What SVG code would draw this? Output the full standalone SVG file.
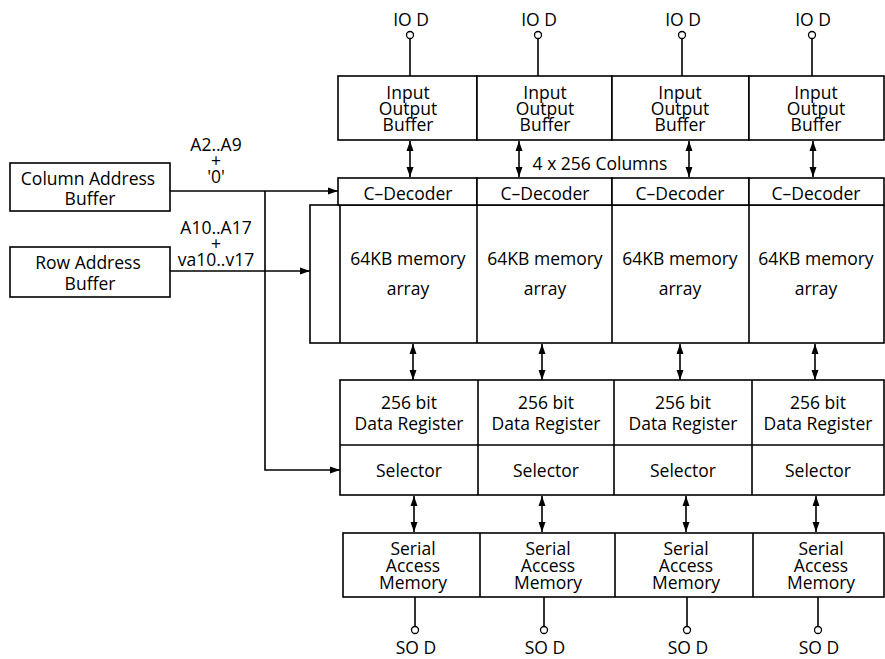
<svg xmlns="http://www.w3.org/2000/svg" width="885" height="659" viewBox="0 0 885 659">
<style>
.b{fill:#fff;stroke:#000;stroke-width:1.6}
.l{fill:none;stroke:#000;stroke-width:1.6}
text{font-family:"Open Sans","DejaVu Sans",sans-serif;font-size:17.5px;fill:#000;text-anchor:middle}
.pin{fill:#fff;stroke:#000;stroke-width:1.3}
</style>
<defs>
<marker id="a" viewBox="0 0 10 10" refX="10" refY="5" markerWidth="10" markerHeight="10" markerUnits="userSpaceOnUse" orient="auto-start-reverse"><path d="M0,1.5 L10,5 L0,8.5 z" fill="#000"/></marker>
</defs>
<rect width="885" height="659" fill="#fff"/>
<g id="connectors">
<path class="l" d="M170,191 H338" marker-end="url(#a)"/>
<path class="l" d="M170,271 H310" marker-end="url(#a)"/>
<path class="l" d="M265,191 V470 H340" marker-end="url(#a)"/>
<path class="l" d="M410,141 V177" marker-start="url(#a)" marker-end="url(#a)"/>
<path class="l" d="M519,141 V177" marker-start="url(#a)" marker-end="url(#a)"/>
<path class="l" d="M689,141 V177" marker-start="url(#a)" marker-end="url(#a)"/>
<path class="l" d="M813,141 V177" marker-start="url(#a)" marker-end="url(#a)"/>
<path class="l" d="M413,344 V380" marker-start="url(#a)" marker-end="url(#a)"/>
<path class="l" d="M542,344 V380" marker-start="url(#a)" marker-end="url(#a)"/>
<path class="l" d="M680,344 V380" marker-start="url(#a)" marker-end="url(#a)"/>
<path class="l" d="M815,344 V380" marker-start="url(#a)" marker-end="url(#a)"/>
<path class="l" d="M414,496 V532" marker-start="url(#a)" marker-end="url(#a)"/>
<path class="l" d="M542,496 V532" marker-start="url(#a)" marker-end="url(#a)"/>
<path class="l" d="M686,496 V532" marker-start="url(#a)" marker-end="url(#a)"/>
<path class="l" d="M816,496 V532" marker-start="url(#a)" marker-end="url(#a)"/>
<path class="l" d="M410,38 V76 M538,38 V76 M682,38 V76 M812,38 V76"/>
<path class="l" d="M415,597 V627 M544,597 V627 M687,597 V627 M818,597 V627"/>
</g>
<g id="col-addr"><rect class="b" x="10" y="163" width="160" height="48"/><text x="88" y="185">Column Address</text><text x="90" y="205">Buffer</text></g>
<g id="row-addr"><rect class="b" x="10" y="247" width="160" height="50"/><text x="88" y="269">Row Address</text><text x="90" y="290">Buffer</text></g>
<g id="labels">
<text x="216" y="151">A2..A9</text><text x="216" y="167">+</text><text x="216" y="183">'0'</text>
<text x="216" y="234">A10..A17</text><text x="216" y="250">+</text><text x="216" y="266">va10..v17</text>
<text x="600" y="170">4 x 256 Columns</text>
</g>
<g id="io-pins">
<circle class="pin" cx="410" cy="35" r="3.5"/><circle class="pin" cx="538" cy="35" r="3.5"/><circle class="pin" cx="682" cy="35" r="3.5"/><circle class="pin" cx="812" cy="35" r="3.5"/>
<text x="411" y="26">IO D</text><text x="539" y="26">IO D</text><text x="683" y="26">IO D</text><text x="813" y="26">IO D</text>
</g>
<g id="io-buffers">
<rect class="b" x="338" y="76" width="139" height="64"/><rect class="b" x="477" y="76" width="135" height="64"/><rect class="b" x="612" y="76" width="137" height="64"/><rect class="b" x="749" y="76" width="135" height="64"/>
<text x="408" y="99">Input</text><text x="408" y="115">Output</text><text x="408" y="131">Buffer</text>
<text x="545" y="99">Input</text><text x="545" y="115">Output</text><text x="545" y="131">Buffer</text>
<text x="680" y="99">Input</text><text x="680" y="115">Output</text><text x="680" y="131">Buffer</text>
<text x="816" y="99">Input</text><text x="816" y="115">Output</text><text x="816" y="131">Buffer</text>
</g>
<g id="memory-block">
<rect class="b" x="310" y="205" width="574" height="138"/>
<rect class="b" x="338" y="178" width="139" height="27"/><rect class="b" x="477" y="178" width="135" height="27"/><rect class="b" x="612" y="178" width="137" height="27"/><rect class="b" x="749" y="178" width="135" height="27"/>
<path class="l" d="M340,205 V343 M477,205 V343 M612,205 V343 M749,205 V343"/>
<text x="408" y="200">C–Decoder</text><text x="545" y="200">C–Decoder</text><text x="680" y="200">C–Decoder</text><text x="816" y="200">C–Decoder</text>
<text x="408" y="265">64KB memory</text><text x="408" y="295">array</text>
<text x="545" y="265">64KB memory</text><text x="545" y="295">array</text>
<text x="680" y="265">64KB memory</text><text x="680" y="295">array</text>
<text x="816" y="265">64KB memory</text><text x="816" y="295">array</text>
</g>
<g id="registers">
<rect class="b" x="340" y="380" width="544" height="115"/>
<path class="l" d="M340,445 H884 M478,380 V495 M614,380 V495 M752,380 V495"/>
<text x="409" y="409">256 bit</text><text x="409" y="430">Data Register</text><text x="409" y="477">Selector</text>
<text x="546" y="409">256 bit</text><text x="546" y="430">Data Register</text><text x="546" y="477">Selector</text>
<text x="683" y="409">256 bit</text><text x="683" y="430">Data Register</text><text x="683" y="477">Selector</text>
<text x="818" y="409">256 bit</text><text x="818" y="430">Data Register</text><text x="818" y="477">Selector</text>
</g>
<g id="sam">
<rect class="b" x="343" y="533" width="541" height="64"/>
<path class="l" d="M480,533 V597 M615,533 V597 M753,533 V597"/>
<text x="413" y="555">Serial</text><text x="413" y="572">Access</text><text x="413" y="589">Memory</text>
<text x="548" y="555">Serial</text><text x="548" y="572">Access</text><text x="548" y="589">Memory</text>
<text x="686" y="555">Serial</text><text x="686" y="572">Access</text><text x="686" y="589">Memory</text>
<text x="821" y="555">Serial</text><text x="821" y="572">Access</text><text x="821" y="589">Memory</text>
</g>
<g id="so-pins">
<circle class="pin" cx="415" cy="630" r="3.5"/><circle class="pin" cx="544" cy="630" r="3.5"/><circle class="pin" cx="687" cy="630" r="3.5"/><circle class="pin" cx="818" cy="630" r="3.5"/>
<text x="416" y="654">SO D</text><text x="545" y="654">SO D</text><text x="688" y="654">SO D</text><text x="819" y="654">SO D</text>
</g>
</svg>
